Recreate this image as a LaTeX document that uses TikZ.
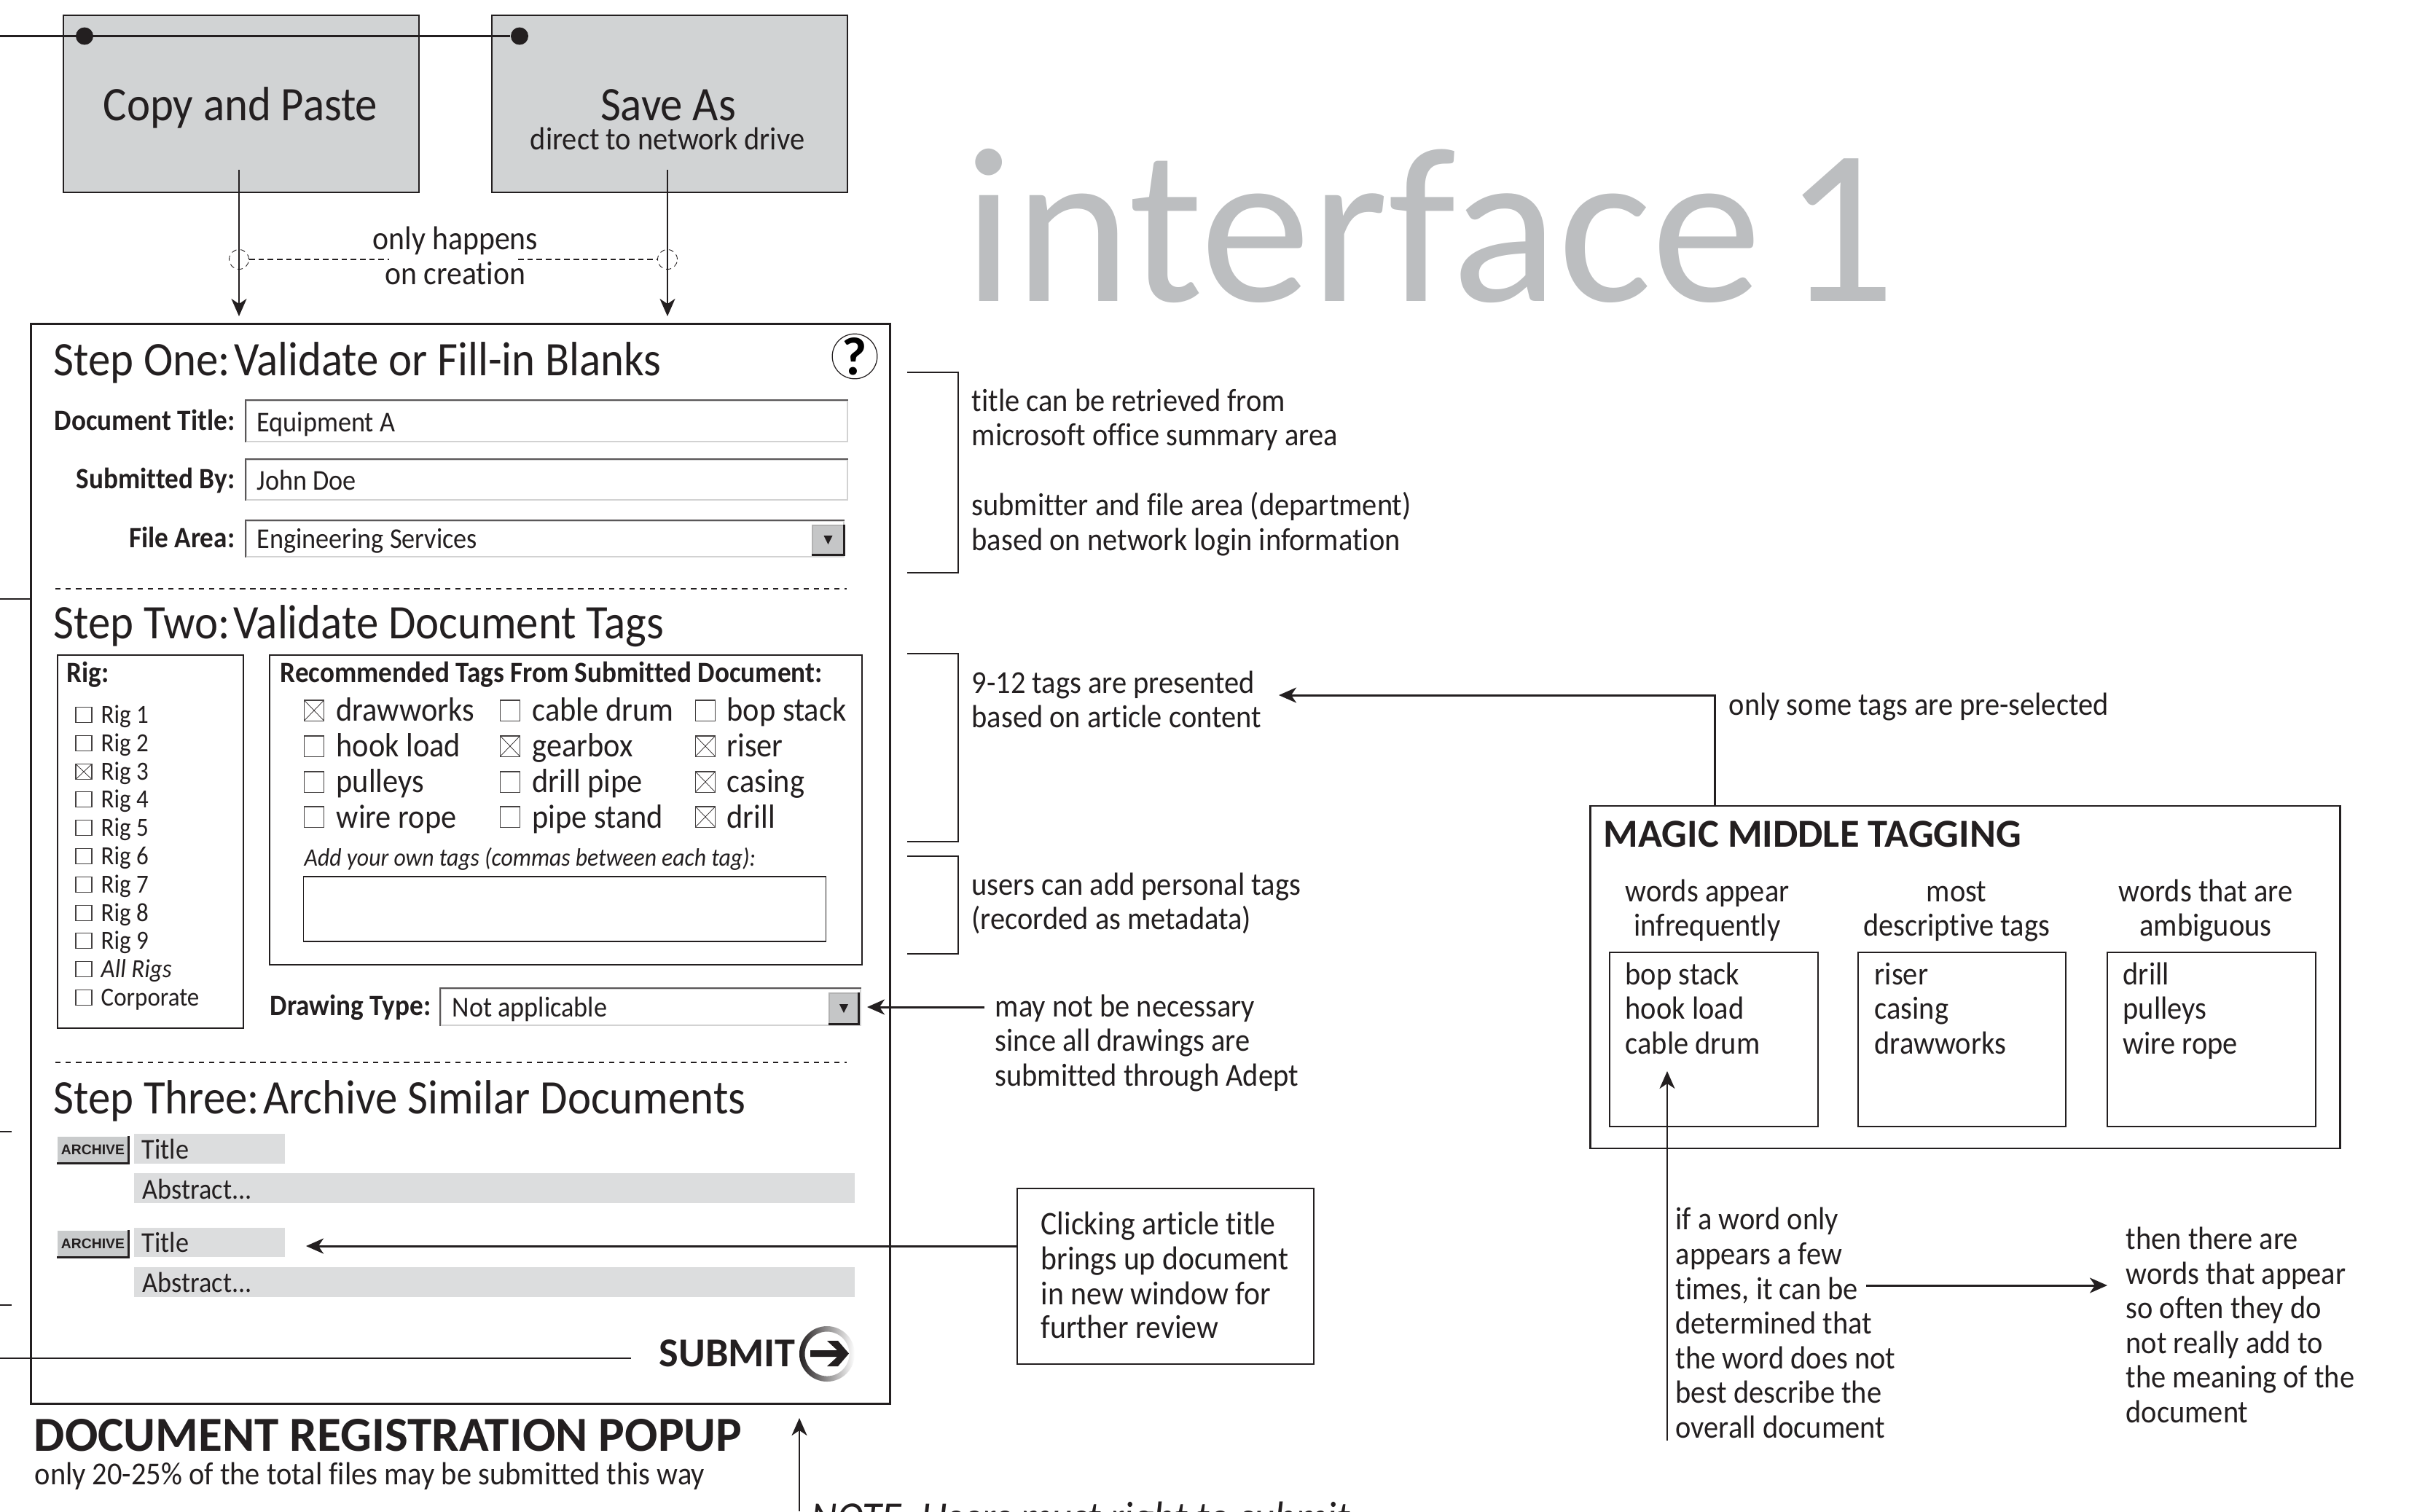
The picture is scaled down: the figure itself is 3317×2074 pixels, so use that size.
\documentclass[tikz,border=0pt]{standalone}
\usepackage{fontspec}
\setmainfont[FakeStretch=0.92,Ligatures=NoCommon]{Carlito}
\newfontfamily\headfont[Ligatures=NoCommon]{Carlito}
\newfontfamily\btnfont{Liberation Sans}
\usetikzlibrary{arrows.meta}
\definecolor{ink}{HTML}{231F20}
\definecolor{boxgray}{HTML}{D1D3D4}
\definecolor{bargray}{HTML}{DCDDDE}
\definecolor{bigtitle}{HTML}{BCBEC0}
\newcommand{\fbig}{\headfont\fontsize{86.5}{100}\selectfont}
\newcommand{\fstep}{\fontsize{18.8}{21}\selectfont}
\newcommand{\fnote}{\fontsize{12.5}{15}\selectfont}
\newcommand{\fclick}{\fontsize{12.9}{15}\selectfont}
\newcommand{\flabel}{\fontsize{11.5}{13}\selectfont}
\newcommand{\fvalue}{\fontsize{11.2}{13}\selectfont}
\newcommand{\fown}{\fontsize{9.8}{12}\selectfont}
\newcommand{\frig}{\fontsize{10.2}{12}\selectfont}
\newcommand{\ftag}{\fontsize{13.1}{15}\selectfont}
\newcommand{\fhead}{\headfont\bfseries\fontsize{15.5}{18}\selectfont}
\newcommand{\fpopup}{\headfont\bfseries\fontsize{19.1}{22}\selectfont}
\tikzset{
  txt/.style={anchor=base west,inner sep=0pt,text=ink,yshift=-0.015cm},
  ctxt/.style={anchor=base,inner sep=0pt,text=ink,yshift=-0.015cm},
  rtxt/.style={anchor=base east,inner sep=0pt,text=ink,yshift=-0.015cm},
  note/.style={txt,font=\fnote},
  rule/.style={draw=ink,line width=0.7pt},
  flowbox/.style={rule,fill=boxgray,inner sep=0pt},
  plainbox/.style={rule,inner sep=0pt},
  dot/.style={circle,fill=ink,inner sep=0pt,minimum size=0.24cm},
  pointer/.style={draw=ink,line width=0.55pt,-{Stealth[length=0.24cm,width=0.21cm,inset=0.07cm]}},
  fatpointer/.style={pointer,line width=0.85pt},
  hint/.style={circle,draw=ink,line width=0.25pt,dashed,dash pattern=on 2pt off 1.5pt,minimum size=0.27cm,inner sep=0pt},
  hintline/.style={draw=ink,line width=0.3pt,dash pattern=on 2.2pt off 1.4pt},
  sepline/.style={draw=ink,line width=0.6pt,dash pattern=on 2.1pt off 1.9pt},
  field/.style={draw=gray!35,line width=0.5pt,fill=white,inner sep=0pt},
  fieldedge/.style={draw=ink!75,line width=0.7pt},
  dropbtn/.style={draw=gray!60,line width=0.3pt,fill=boxgray!85!gray,inner sep=0pt},
  dropedge/.style={draw=ink,line width=0.8pt},
  rigbox/.style={draw=ink!85,line width=0.3pt,minimum width=0.22cm,minimum height=0.21cm,inner sep=0pt},
  tagbox/.style={draw=ink!85,line width=0.3pt,minimum width=0.27cm,minimum height=0.28cm,inner sep=0pt},
  ticked/.style={path picture={\draw[ink,line width=0.2pt] (path picture bounding box.north west) -- (path picture bounding box.south east) (path picture bounding box.north east) -- (path picture bounding box.south west);}},
  bar/.style={fill=bargray,inner sep=0pt},
  archbtn/.style={fill=boxgray!90!gray,inner sep=0pt,font=\btnfont\bfseries\fontsize{5.5}{6}\selectfont,text=ink}
}
\begin{document}
\begin{tikzpicture}[x=0.01cm,y=-0.01cm]
\useasboundingbox (0,0) rectangle (3317,2074);
\clip (0,0) rectangle (3317,2074);
\node[flowbox,minimum width=4.88cm,minimum height=2.43cm] (copybox) at (331,142.5){};
\node[flowbox,minimum width=4.88cm,minimum height=2.43cm] (savebox) at (919,142.5){};
\node[ctxt,font=\fstep] (copytxt) at (330,164){Copy and Paste};
\node[ctxt,font=\fstep] (savetxt) at (917,164){Save As};
\node[ctxt,font=\fnote] (savesub) at (916,204){direct to network drive};
\coordinate (feedin) at (0,49.5);
\node[dot] (dotcopy) at (116,49.5){};
\node[dot] (dotsave) at (713,49.5){};
\draw[rule](feedin) -- (dotsave);
\coordinate (copyfrom) at (328,233);
\coordinate (savefrom) at (916,233);
\coordinate (copyto) at (328,434);
\coordinate (saveto) at (916,434);
\draw[pointer](copyfrom) -- (copyto);
\draw[pointer](savefrom) -- (saveto);
\node[hint] (hintcopy) at (328,356){};
\node[hint] (hintsave) at (916,356){};
\coordinate (gapleft) at (534,356);
\coordinate (gapright) at (711,356);
\draw[hintline](hintcopy) -- (gapleft);
\draw[hintline](gapright) -- (hintsave);
\node[ctxt,font=\fclick] (oncea) at (625,341){only happens};
\node[ctxt,font=\fclick] (onceb) at (625,389){on creation};
\node[txt,font=\fbig,text=bigtitle] (bigname) at (1322,411.5){interface\hspace{-0.13em} 1};
\node[plainbox,minimum width=11.78cm,minimum height=14.81cm] (popup) at (632,1185.5){};
\node[txt,font=\fstep] (stepone) at (73,514){Step One:\hspace{-0.2em} Validate or Fill-in Blanks};
\node[circle,draw=ink,line width=0.35pt,minimum size=0.58cm,inner sep=0pt,font=\headfont\bfseries\fontsize{21}{21}\selectfont] (helpmark) at (1173,489){?};
\node[rtxt,font=\flabel\bfseries] (lbltitle) at (323,589){Document Title:};
\node[rtxt,font=\flabel\bfseries] (lblsub) at (323,669){Submitted By:};
\node[rtxt,font=\flabel\bfseries] (lblarea) at (323,750){File Area:};
\node[field,minimum width=8.25cm,minimum height=0.56cm] (fldtitle) at (750.5,578){};
\node[field,minimum width=8.25cm,minimum height=0.55cm] (fldsub) at (750.5,658.5){};
\node[field,minimum width=8.2cm,minimum height=0.49cm] (fldarea) at (748,739.5){};
\draw[fieldedge](fldtitle.south west) -- (fldtitle.north west) -- (fldtitle.north east);
\draw[fieldedge](fldsub.south west) -- (fldsub.north west) -- (fldsub.north east);
\draw[fieldedge](fldarea.south west) -- (fldarea.north west) -- (fldarea.north east);
\node[txt,font=\fvalue] (valtitle) at (352,591){Equipment A};
\node[txt,font=\fvalue] (valsub) at (352,671){John Doe};
\node[txt,font=\fvalue] (valarea) at (352,751){Engineering Services};
\node[dropbtn,minimum width=0.43cm,minimum height=0.4cm] (btnarea) at (1136.5,741){};
\draw[dropedge](btnarea.north east) -- (btnarea.south east) -- (btnarea.south west);
\fill[ink] ([shift={(-6,-6)}]btnarea.center) -- ++(12,0) -- ++(-6,12) -- cycle;
\coordinate (sepaa) at (76,808);
\coordinate (sepab) at (1162,808);
\draw[sepline](sepaa) -- (sepab);
\node[txt,font=\fstep] (steptwo) at (73,875){Step Two:\hspace{-0.2em} Validate Document Tags};
\node[plainbox,minimum width=2.55cm,minimum height=5.12cm] (rigpanel) at (206.5,1155){};
\node[txt,font=\flabel\bfseries] (rigtitle) at (91,935){Rig:};
\node[rigbox] (rig1) at (115,981){};
\node[rigbox] (rig2) at (115,1020){};
\node[rigbox,ticked] (rig3) at (115,1059){};
\node[rigbox] (rig4) at (115,1097){};
\node[rigbox] (rig5) at (115,1136){};
\node[rigbox] (rig6) at (115,1175){};
\node[rigbox] (rig7) at (115,1214){};
\node[rigbox] (rig8) at (115,1253){};
\node[rigbox] (rig9) at (115,1291){};
\node[rigbox] (rigall) at (115,1330){};
\node[rigbox] (rigcorp) at (115,1369){};
\node[txt,font=\frig] (riglbl1) at (138,991){Rig 1};
\node[txt,font=\frig] (riglbl2) at (138,1030){Rig 2};
\node[txt,font=\frig] (riglbl3) at (138,1069){Rig 3};
\node[txt,font=\frig] (riglbl4) at (138,1107){Rig 4};
\node[txt,font=\frig] (riglbl5) at (138,1146){Rig 5};
\node[txt,font=\frig] (riglbl6) at (138,1185){Rig 6};
\node[txt,font=\frig] (riglbl7) at (138,1224){Rig 7};
\node[txt,font=\frig] (riglbl8) at (138,1263){Rig 8};
\node[txt,font=\frig] (riglbl9) at (138,1301){Rig 9};
\node[txt,font=\frig\itshape] (riglblall) at (138,1340){All Rigs};
\node[txt,font=\frig] (riglblcorp) at (138,1379){Corporate};
\node[plainbox,minimum width=8.13cm,minimum height=4.25cm] (tagpanel) at (776.5,1111.5){};
\node[txt,font=\flabel\bfseries] (tagtitle) at (384,935){Recommended Tags From Submitted Document:};
\node[tagbox,ticked] (tagdraw) at (431,975){};
\node[tagbox] (taghook) at (431,1024){};
\node[tagbox] (tagpull) at (431,1073){};
\node[tagbox] (tagwire) at (431,1121){};
\node[tagbox] (tagcable) at (700,975){};
\node[tagbox,ticked] (taggear) at (700,1024){};
\node[tagbox] (tagpipe) at (700,1073){};
\node[tagbox] (tagstand) at (700,1121){};
\node[tagbox] (tagbop) at (968,975){};
\node[tagbox,ticked] (tagriser) at (968,1024){};
\node[tagbox,ticked] (tagcasing) at (968,1073){};
\node[tagbox,ticked] (tagdrill) at (968,1121){};
\node[txt,font=\ftag] (lbldraw) at (461,988){drawworks};
\node[txt,font=\ftag] (lblhook) at (461,1037){hook load};
\node[txt,font=\ftag] (lblpull) at (461,1086){pulleys};
\node[txt,font=\ftag] (lblwire) at (461,1135){wire rope};
\node[txt,font=\ftag] (lblcable) at (730,988){cable drum};
\node[txt,font=\ftag] (lblgear) at (730,1037){gearbox};
\node[txt,font=\ftag] (lblpipe) at (730,1086){drill pipe};
\node[txt,font=\ftag] (lblstand) at (730,1135){pipe stand};
\node[txt,font=\ftag] (lblbop) at (997,988){bop stack};
\node[txt,font=\ftag] (lblriser) at (997,1037){riser};
\node[txt,font=\ftag] (lblcasing) at (997,1086){casing};
\node[txt,font=\ftag] (lbldrill) at (997,1135){drill};
\node[txt,font=\fown\itshape] (owntags) at (417,1187){Add your own tags (commas between each tag):};
\node[plainbox,line width=0.4pt,minimum width=7.16cm,minimum height=0.89cm] (ownbox) at (775,1247.5){};
\node[txt,font=\flabel\bfseries] (lbldrawing) at (370,1392){Drawing Type:};
\node[field,minimum width=5.76cm,minimum height=0.5cm] (flddrawing) at (893,1382){};
\draw[fieldedge](flddrawing.south west) -- (flddrawing.north west) -- (flddrawing.north east);
\node[txt,font=\fvalue] (valdrawing) at (620,1394){Not applicable};
\node[dropbtn,minimum width=0.4cm,minimum height=0.42cm] (btndrawing) at (1158,1384){};
\draw[dropedge](btndrawing.north east) -- (btndrawing.south east) -- (btndrawing.south west);
\fill[ink] ([shift={(-6,-6)}]btndrawing.center) -- ++(12,0) -- ++(-6,12) -- cycle;
\coordinate (drawingfrom) at (1351,1382);
\coordinate (drawingto) at (1190,1382);
\draw[fatpointer](drawingfrom) -- (drawingto);
\coordinate (sepba) at (76,1458);
\coordinate (sepbb) at (1162,1458);
\draw[sepline](sepba) -- (sepbb);
\node[txt,font=\fstep] (stepthree) at (73,1527){Step Three:\hspace{-0.2em} Archive Similar Documents};
\node[archbtn,minimum width=0.97cm,minimum height=0.36cm] (archa) at (127.5,1578){ARCHIVE};
\draw[dropedge](archa.south west) -- (archa.south east) -- (archa.north east);
\node[bar,minimum width=2.07cm,minimum height=0.41cm] (titlea) at (287.5,1576.5){};
\node[bar,minimum width=9.89cm,minimum height=0.41cm] (absa) at (678.5,1630.5){};
\node[txt,font=\fvalue] (titlealbl) at (194,1589){Title};
\node[txt,font=\fvalue] (absalbl) at (195,1644){Abstract...};
\node[archbtn,minimum width=0.97cm,minimum height=0.36cm] (archb) at (127.5,1707){ARCHIVE};
\draw[dropedge](archb.south west) -- (archb.south east) -- (archb.north east);
\node[bar,minimum width=2.07cm,minimum height=0.4cm] (titleb) at (287.5,1705){};
\node[bar,minimum width=9.89cm,minimum height=0.41cm] (absb) at (678.5,1759.5){};
\node[txt,font=\fvalue] (titleblbl) at (194,1717){Title};
\node[txt,font=\fvalue] (absblbl) at (195,1772){Abstract...};
\coordinate (leftaa) at (0,822);
\coordinate (leftab) at (43,822);
\coordinate (leftba) at (0,1553);
\coordinate (leftbb) at (16,1553);
\coordinate (leftca) at (0,1791);
\coordinate (leftcb) at (16,1791);
\draw[rule](leftaa) -- (leftab);
\draw[rule](leftba) -- (leftbb);
\draw[rule](leftca) -- (leftcb);
\coordinate (submitfrom) at (0,1864);
\coordinate (submitto) at (866,1864);
\draw[rule](submitfrom) -- (submitto);
\node[txt,font=\headfont\bfseries\fontsize{16}{18}\selectfont] (submit) at (904,1874){SUBMIT};
\path[left color=ink,right color=white,even odd rule] (1135,1858) circle (0.38cm) (1135,1858) circle (0.305cm);
\fill[ink] (1135,1840) -- (1150,1840) -- (1165,1857.5) -- (1150,1875) -- (1135,1875) -- (1149,1862) -- (1112,1862) -- (1112,1853) -- (1149,1853) -- cycle;
\node[txt,font=\fpopup] (popuptitle) at (46,1989.5){DOCUMENT REGISTRATION POPUP};
\node[txt,font=\fnote] (popupsub) at (47,2036){only 20-25\% of the total files may be submitted this way};
\coordinate (notefrom) at (1097,2074);
\coordinate (noteto) at (1097,1946);
\draw[pointer](notefrom) -- (noteto);
\node[txt,font=\fontsize{17}{19}\selectfont\itshape] (cutnote) at (1113,2100.5){NOTE: Users must right to submit};
\coordinate (brkaa) at (1245,511);
\coordinate (brkab) at (1315,511);
\coordinate (brkac) at (1315,786);
\coordinate (brkad) at (1245,786);
\draw[rule](brkaa) -- (brkab) -- (brkac) -- (brkad);
\coordinate (brkba) at (1245,897);
\coordinate (brkbb) at (1315,897);
\coordinate (brkbc) at (1315,1155);
\coordinate (brkbd) at (1245,1155);
\draw[rule](brkba) -- (brkbb) -- (brkbc) -- (brkbd);
\coordinate (brkca) at (1245,1175);
\coordinate (brkcb) at (1315,1175);
\coordinate (brkcc) at (1315,1309);
\coordinate (brkcd) at (1245,1309);
\draw[rule](brkca) -- (brkcb) -- (brkcc) -- (brkcd);
\node[note] (retra) at (1333,563){title can be retrieved from};
\node[note] (retrb) at (1333,610){microsoft office summary area};
\node[note] (retrc) at (1333,706){submitter and file area (department)};
\node[note] (retrd) at (1333,754){based on network login information};
\node[note] (tagsa) at (1333,950){9-12 tags are presented};
\node[note] (tagsb) at (1333,997){based on article content};
\node[note] (usera) at (1333,1227){users can add personal tags};
\node[note] (userb) at (1333,1274){(recorded as metadata)};
\node[note] (maya) at (1365,1394){may not be necessary};
\node[note] (mayb) at (1365,1441){since all drawings are};
\node[note] (mayc) at (1365,1489){submitted through Adept};
\node[note] (presel) at (2372,980){only some tags are pre-selected};
\node[plainbox,minimum width=4.07cm,minimum height=2.41cm] (clickbox) at (1599.5,1751.5){};
\node[txt,font=\fclick] (clicka) at (1428,1693){Clicking article title};
\node[txt,font=\fclick] (clickb) at (1428,1741){brings up document};
\node[txt,font=\fclick] (clickc) at (1428,1789){in new window for};
\node[txt,font=\fclick] (clickd) at (1428,1835){further review};
\coordinate (clickto) at (420,1710);
\draw[fatpointer](clickbox.west |- clickto) -- (clickto);
\node[plainbox,minimum width=10.28cm,minimum height=4.7cm] (magicbox) at (2697,1341){};
\node[txt,font=\fhead] (magictitle) at (2200,1161){MAGIC MIDDLE TAGGING};
\node[ctxt,font=\fnote] (heada) at (2343,1236){words appear};
\node[ctxt,font=\fnote] (headb) at (2343,1283){infrequently};
\node[ctxt,font=\fnote] (headc) at (2685,1236){most};
\node[ctxt,font=\fnote] (headd) at (2685,1283){descriptive tags};
\node[ctxt,font=\fnote] (heade) at (3027,1236){words that are};
\node[ctxt,font=\fnote] (headf) at (3027,1283){ambiguous};
\node[plainbox,minimum width=2.86cm,minimum height=2.39cm] (rarebox) at (2352,1426.5){};
\node[plainbox,minimum width=2.85cm,minimum height=2.39cm] (bestbox) at (2692.5,1426.5){};
\node[plainbox,minimum width=2.86cm,minimum height=2.39cm] (vaguebox) at (3035,1426.5){};
\node[note] (rarea) at (2230,1350){bop stack};
\node[note] (rareb) at (2230,1397){hook load};
\node[note] (rarec) at (2230,1445){cable drum};
\node[note] (besta) at (2572,1350){riser};
\node[note] (bestb) at (2572,1397){casing};
\node[note] (bestc) at (2572,1445){drawworks};
\node[note] (vaguea) at (2913,1350){drill};
\node[note] (vagueb) at (2913,1397){pulleys};
\node[note] (vaguec) at (2913,1445){wire rope};
\coordinate (tagsto) at (1755,954);
\coordinate (tagscorner) at (2353,954);
\draw[fatpointer](magicbox.north -| tagscorner) -- (tagscorner) -- (tagsto);
\coordinate (rarefrom) at (2288,1977);
\coordinate (rareto) at (2288,1470);
\draw[pointer](rarefrom) -- (rareto);
\node[note] (wordsa) at (2299,1686){if a word only};
\node[note] (wordsb) at (2299,1734){appears a few};
\node[note] (wordsc) at (2299,1782){times, it can be};
\node[note] (wordsd) at (2299,1829){determined that};
\node[note] (wordse) at (2299,1877){the word does not};
\node[note] (wordsf) at (2299,1924){best describe the};
\node[note] (wordsg) at (2299,1972){overall document};
\coordinate (oftenfrom) at (2561,1764);
\coordinate (oftento) at (2892,1764);
\draw[fatpointer](oftenfrom) -- (oftento);
\node[note] (oftena) at (2917,1713){then there are};
\node[note] (oftenb) at (2917,1761){words that appear};
\node[note] (oftenc) at (2917,1808){so often they do};
\node[note] (oftend) at (2917,1856){not really add to};
\node[note] (oftene) at (2917,1903){the meaning of the};
\node[note] (oftenf) at (2917,1951){document};
\end{tikzpicture}
\end{document}
